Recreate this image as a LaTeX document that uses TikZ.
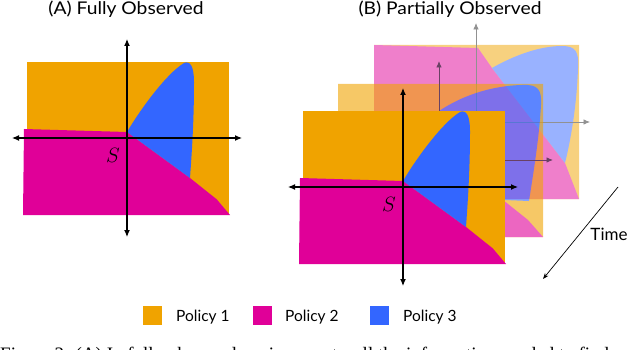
\documentclass[tikz,border=0pt]{standalone}
\usepackage{fontspec}
\setmainfont{Lato}
\newfontfamily\widefont{Lato}[FakeStretch=1.1]
\newfontfamily\capfont{Liberation Serif}
\usetikzlibrary{arrows.meta}
\definecolor{pol1}{RGB}{240,163,0}
\definecolor{pol2}{RGB}{224,0,152}
\definecolor{pol3}{RGB}{51,102,255}
\definecolor{midax}{RGB}{105,65,100}
\definecolor{backax}{RGB}{145,145,145}
\tikzset{
  axisline/.style={line width=1.1pt, black, {Latex[length=7pt,width=6pt]}-{Latex[length=7pt,width=6pt]}},
  midaxis/.style={line width=0.9pt, midax, -{Latex[length=6.5pt,width=5.5pt]}},
  backaxis/.style={line width=0.8pt, backax, -{Latex[length=6.5pt,width=5.5pt]}},
  slabel/.style={inner sep=0pt, font=\fontsize{21}{21}\selectfont},
  title/.style={anchor=base, inner sep=0pt, font=\widefont\fontsize{17.5}{20}\selectfont},
  timelabel/.style={anchor=base, inner sep=0pt, font=\fontsize{17}{20}\selectfont},
  legtext/.style={anchor=base west, inner sep=0pt, font=\fontsize{15.5}{18}\selectfont},
  legsq/.style={minimum size=19pt, inner sep=0pt, draw=none},
  timearrow/.style={line width=0.7pt, black, -{Stealth[length=6pt,width=4.5pt]}}
}
\newcommand{\frontpanel}[1]{%
  \fill[pol1] (27,62) rectangle (229,215);
  \fill[pol2] (24,129) -- (127,132) -- (190,178) -- (216.7,199.3) -- (230,215) -- (23,215) -- cycle;
  \fill[pol3] (127,132) .. controls (140,110) and (166,74) .. (184,63) .. controls (190,60.5) and (194,66) .. (194,82) .. controls (194,120) and (192,150) .. (190,178) -- cycle;
  \coordinate (#1t) at (127,39);
  \coordinate (#1b) at (127,237);
  \coordinate (#1l) at (12,138);
  \coordinate (#1r) at (242,138);
  \draw[axisline] (#1l) -- (#1r);
  \draw[axisline] (#1t) -- (#1b);
  \node[slabel] (#1s) at (113,155) {$S$};
}
\begin{document}
\begin{tikzpicture}[x=1pt,y=-1pt]
\useasboundingbox (0,0) rectangle (640,350);
% titles
\node[title] (ta) at (126,15) {(A) Fully Observed};
\node[title] (tb) at (450,15) {(B) Partially Observed};
% panel A
\begin{scope}
\frontpanel{a}
\end{scope}
% back panel
\begin{scope}[transparency group, opacity=0.5]
  \fill[pol1] (374,45) rectangle (579,199);
  \fill[pol2] (374,45) -- (478,48) -- (492,68) -- (565,163) -- (579,199) -- (374,199) -- cycle;
  \fill[pol3] (492,68) .. controls (515,55) and (540,46) .. (562,46) .. controls (576,46) and (579,52) .. (578,68) .. controls (577,100) and (572,135) .. (565,163) -- cycle;
\end{scope}
\coordinate (bvb) at (476,220);
\coordinate (bvt) at (476,23);
\coordinate (bhl) at (360,122);
\coordinate (bhr) at (590,122);
\draw[backaxis] (bvb) -- (bvt);
\draw[backaxis] (bhl) -- (bhr);
% middle panel
\begin{scope}[transparency group, opacity=0.6]
  \fill[pol1] (338,84) rectangle (543,237);
  \fill[pol2] (338,151) -- (438,154) -- (503,200) -- (528,220) -- (543,237) -- (338,237) -- cycle;
  \fill[pol3] (400,150) .. controls (430,105) and (480,86) .. (522,85) .. controls (538,84) and (542,90) .. (541,105) .. controls (539,140) and (533,175) .. (529,201) -- (505,200) -- cycle;
\end{scope}
\coordinate (mvb) at (439,250);
\coordinate (mvt) at (439,61);
\coordinate (mhl) at (320,160);
\coordinate (mhr) at (553,160);
\draw[midaxis] (mvb) -- (mvt);
\draw[midaxis] (mhl) -- (mhr);
% front panel B
\begin{scope}[shift={(276,49)}]
\frontpanel{f}
\end{scope}
% time arrow
\coordinate (ts) at (618,187);
\coordinate (te) at (543,279);
\draw[timearrow] (ts) -- (te);
\node[timelabel] (time) at (609,240) {Time};
% legend
\node[legsq, fill=pol1] (sq1) at (152.5,315.5) {};
\node[legsq, fill=pol2] (sq2) at (262.5,315.5) {};
\node[legsq, fill=pol3] (sq3) at (379.5,315.5) {};
\node[legtext] (l1) at (176,321) {Policy 1};
\node[legtext] (l2) at (285,321) {Policy 2};
\node[legtext] (l3) at (403,321) {Policy 3};
% caption (cut off by the picture's lower edge, as in the reference)
\node[anchor=base west, inner sep=0pt, font=\capfont\fontsize{19}{22}\selectfont] (cap) at (0,360) {Figure 2: (A) In fully observed environments, all the information needed to find a good policy is in the state of};
\end{tikzpicture}
\end{document}
